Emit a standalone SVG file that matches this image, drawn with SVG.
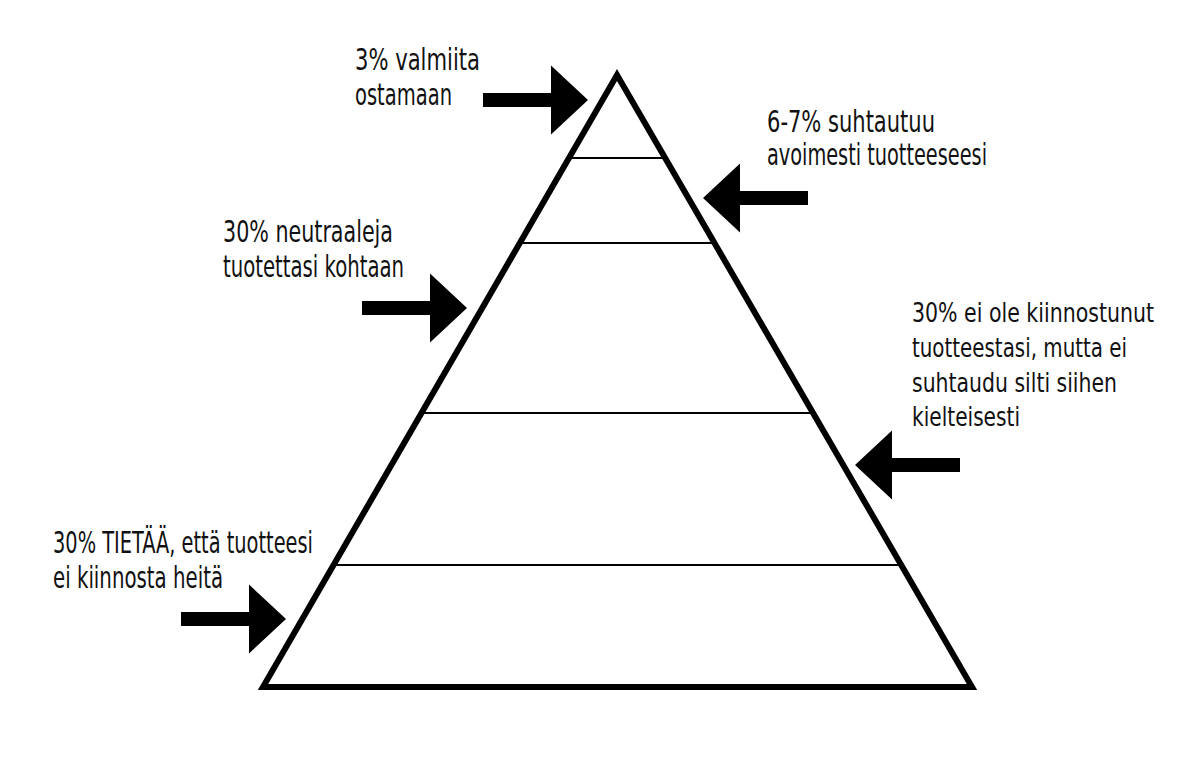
<svg xmlns="http://www.w3.org/2000/svg" xmlns:xlink="http://www.w3.org/1999/xlink" width="1200" height="766" viewBox="0 0 1200 766">
  <style>
    .lbl { font-family: "Liberation Sans Narrow", "DejaVu Sans Condensed", "Liberation Sans", sans-serif; font-size: 30px; fill: #111; }
    .sm { font-size: 26px; }
    .tier { stroke: #000; stroke-width: 2; fill: none; }
    .outline { stroke: #000; stroke-width: 6; fill: none; stroke-linejoin: miter; }
  </style>
  <defs>
    <path id="arrow" d="M0,0 L-37,-34.5 L-37,-7 L-105,-7 L-105,7 L-37,7 L-37,34.5 Z" fill="#000"/>
  </defs>
  <rect width="1200" height="766" fill="#fff"/>

  <g id="pyramid">
    <polygon class="outline" points="617,75 972,687 263,687"/>
    <line class="tier" x1="569" y1="158" x2="665" y2="158"/>
    <line class="tier" x1="520" y1="243" x2="714" y2="243"/>
    <line class="tier" x1="421" y1="413" x2="813" y2="413"/>
    <line class="tier" x1="333" y1="565" x2="901" y2="565"/>
  </g>

  <g id="connectors">
    <use xlink:href="#arrow" transform="translate(588,100)"/>
    <use xlink:href="#arrow" transform="translate(703,198) rotate(180)"/>
    <use xlink:href="#arrow" transform="translate(467,308)"/>
    <use xlink:href="#arrow" transform="translate(855,465) rotate(180)"/>
    <use xlink:href="#arrow" transform="translate(286,619)"/>
  </g>

  <g id="label-3">
    <text class="lbl" x="355" y="70" textLength="125" lengthAdjust="spacingAndGlyphs">3% valmiita</text>
    <text class="lbl" x="355" y="105" textLength="97" lengthAdjust="spacingAndGlyphs">ostamaan</text>
  </g>
  <g id="label-6-7">
    <text class="lbl" x="767" y="132" textLength="168" lengthAdjust="spacingAndGlyphs">6-7% suhtautuu</text>
    <text class="lbl" x="767" y="165" textLength="220" lengthAdjust="spacingAndGlyphs">avoimesti tuotteeseesi</text>
  </g>
  <g id="label-30-neutral">
    <text class="lbl" x="223" y="242" textLength="170" lengthAdjust="spacingAndGlyphs">30% neutraaleja</text>
    <text class="lbl" x="223" y="277" textLength="181" lengthAdjust="spacingAndGlyphs">tuotettasi kohtaan</text>
  </g>
  <g id="label-30-not-interested">
    <text class="lbl sm" x="912" y="322" textLength="242" lengthAdjust="spacingAndGlyphs">30% ei ole kiinnostunut</text>
    <text class="lbl sm" x="912" y="357" textLength="215" lengthAdjust="spacingAndGlyphs">tuotteestasi, mutta ei</text>
    <text class="lbl sm" x="912" y="392" textLength="205" lengthAdjust="spacingAndGlyphs">suhtaudu silti siihen</text>
    <text class="lbl sm" x="912" y="426" textLength="108" lengthAdjust="spacingAndGlyphs">kielteisesti</text>
  </g>
  <g id="label-30-knows">
    <text class="lbl" x="53" y="553" textLength="260" lengthAdjust="spacingAndGlyphs">30% TIETÄÄ, että tuotteesi</text>
    <text class="lbl" x="53" y="588" textLength="170" lengthAdjust="spacingAndGlyphs">ei kiinnosta heitä</text>
  </g>
</svg>
